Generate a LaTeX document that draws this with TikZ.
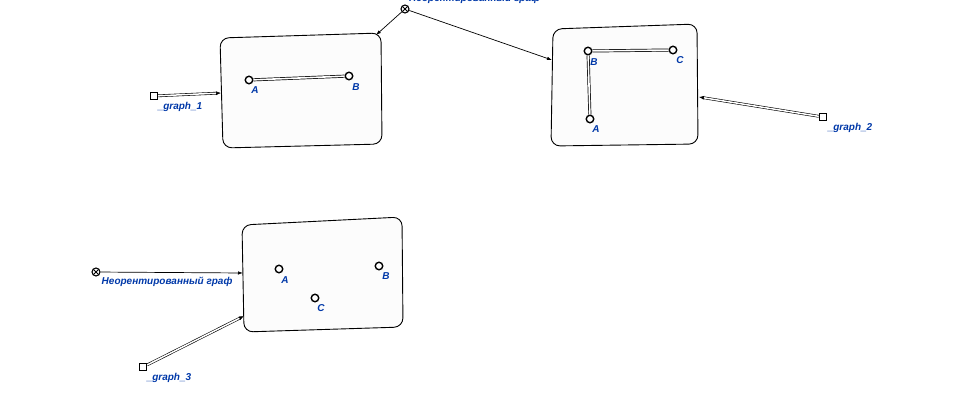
\documentclass[tikz,border=0pt]{standalone}
\usepackage{fontspec}
\setmainfont{Liberation Sans}
\usetikzlibrary{arrows.meta}
\definecolor{lblblue}{RGB}{0,56,168}
\definecolor{boxfill}{RGB}{252,252,252}

\tikzset{
  vert/.style={circle,draw,line width=1.4pt,fill=white,minimum size=7.5pt,inner sep=0pt},
  term/.style={rectangle,draw,line width=1.4pt,fill=white,minimum size=7pt,inner sep=0pt},
  xcirc/.style={circle,draw,line width=1.1pt,fill=white,minimum size=8pt,inner sep=0pt,
    path picture={\draw[line width=0.8pt]
      ([shift={(-2.5pt,-2.5pt)}]path picture bounding box.center) -- ([shift={(2.5pt,2.5pt)}]path picture bounding box.center)
      ([shift={(-2.5pt,2.5pt)}]path picture bounding box.center) -- ([shift={(2.5pt,-2.5pt)}]path picture bounding box.center);}},
  lbl/.style={text=lblblue,font=\bfseries\itshape\fontsize{10}{12}\selectfont,inner sep=0pt},
  box/.style={draw,fill=boxfill,rounded corners=9pt,line width=0.9pt},
  edge2/.style={double,double distance=1.6pt,line width=0.7pt},
  link2/.style={double,double distance=1.5pt,line width=0.6pt,-{Latex[length=5pt,width=4pt]}},
  link/.style={line width=0.7pt,-{Latex[length=5pt,width=3.5pt]}}
}

\begin{document}
\begin{tikzpicture}[x=1pt,y=-1pt]
\useasboundingbox (0,0) rectangle (967,420);

% box 1
\draw[box] (220,38) -- (381,33) -- (382,144) -- (223,148) -- cycle;
\node[vert] (a1) at (249,80) {};
\node[vert] (b1) at (349,76) {};
\draw[edge2] (a1) -- (b1);
\node[lbl] at (255,90) {A};
\node[lbl] at (356,87) {B};

% box 2
\draw[box] (553,29) -- (697,24) -- (698,144) -- (551,146) -- cycle;
\node[vert] (b2) at (588,51) {};
\node[vert] (c2) at (673,50) {};
\node[vert] (a2) at (590,119) {};
\draw[edge2] (b2) -- (c2);
\draw[edge2] (b2) -- (a2);
\node[lbl] at (594,62) {B};
\node[lbl] at (680,60) {C};
\node[lbl] at (596,129) {A};

% box 3
\draw[box] (242,225) -- (402,217) -- (403,327) -- (244,332) -- cycle;
\node[vert] (a3) at (279,269) {};
\node[vert] (b3) at (379,266) {};
\node[vert] (c3) at (315,298) {};
\node[lbl] at (285,280) {A};
\node[lbl] at (386,276) {B};
\node[lbl] at (321,308) {C};

% entry points on the boxes
\coordinate (b1ne) at (376,35);
\coordinate (b1w) at (221,93);
\coordinate (b2w) at (552,60);
\coordinate (b2e) at (699,97);
\coordinate (b3w) at (243,273);
\coordinate (b3sw) at (244,316);

% top relation
\node[xcirc] (top) at (405,9) {};
\node[lbl,anchor=west] at (409,-1) {Неорентированный граф};
\draw[link] (top) -- (b1ne);
\draw[link] (top) -- (b2w);

% graph terminals
\node[term] (g1) at (154,96) {};
\node[lbl] at (180,107) {\_graph\_1};
\draw[link2] (g1) -- (b1w);

\node[term] (g2) at (823,117) {};
\node[lbl] at (850,128) {\_graph\_2};
\draw[link2] (g2) -- (b2e);

\node[term] (g3) at (143,367) {};
\node[lbl] at (169,378) {\_graph\_3};
\draw[link2] (g3) -- (b3sw);

% bottom relation
\node[xcirc] (bot) at (96,272) {};
\node[lbl] at (167,282) {Неорентированный граф};
\draw[link] (bot) -- (b3w);
\end{tikzpicture}
\end{document}
